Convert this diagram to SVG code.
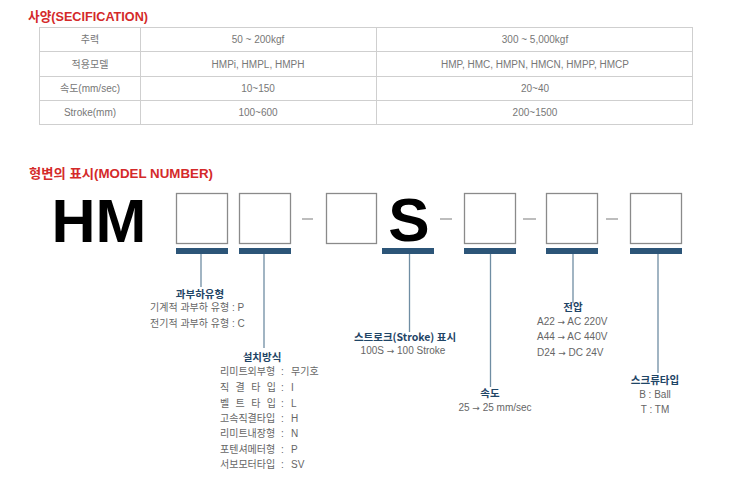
<svg xmlns="http://www.w3.org/2000/svg" width="743" height="498" viewBox="0 0 743 498">
<style>
.title{font-family:"Liberation Sans","Noto Sans CJK KR",sans-serif;font-size:13px;font-weight:bold;fill:#d42a2a}
.cell{font-family:"Liberation Sans","Noto Sans CJK KR",sans-serif;font-size:10px;fill:#777;text-anchor:middle}
.grid{stroke:#cfcfcf;stroke-width:1;fill:none}
.box{fill:#fff;stroke:#8a8a8a;stroke-width:1.3}
.bar{fill:#2c5578}
.dash{stroke:#999;stroke-width:1.3}
.lead{stroke:#6f8da3;stroke-width:1.3;fill:none}
.big{font-family:"Liberation Sans",Arial,sans-serif;font-weight:bold;fill:#000}
.head{font-family:"Noto Sans CJK KR","Liberation Sans",sans-serif;font-size:10.5px;font-weight:bold;fill:#1f4566;text-anchor:middle}
.txt{font-family:"Liberation Sans","Noto Sans CJK KR",sans-serif;font-size:10px;fill:#666}
.mid{text-anchor:middle}
.ar{font-family:"DejaVu Sans",sans-serif;font-size:9px}
</style>
<rect width="743" height="498" fill="#fff"/>
<g id="spec">
<text class="title" x="28" y="21" textLength="120" lengthAdjust="spacingAndGlyphs">사양(SECIFICATION)</text>
<rect class="grid" x="39.5" y="27.5" width="653" height="97"/>
<line class="grid" x1="39.5" y1="51.5" x2="692.5" y2="51.5"/>
<line class="grid" x1="39.5" y1="76.5" x2="692.5" y2="76.5"/>
<line class="grid" x1="39.5" y1="100.5" x2="692.5" y2="100.5"/>
<line class="grid" x1="140.5" y1="27.5" x2="140.5" y2="124.5"/>
<line class="grid" x1="376.5" y1="27.5" x2="376.5" y2="124.5"/>
<text class="cell" x="90" y="43">추력</text>
<text class="cell" x="258" y="43">50 ~ 200kgf</text>
<text class="cell" x="535" y="43">300 ~ 5,000kgf</text>
<text class="cell" x="90" y="68">적용모델</text>
<text class="cell" x="258" y="68">HMPi, HMPL, HMPH</text>
<text class="cell" x="535" y="68">HMP, HMC, HMPN, HMCN, HMPP, HMCP</text>
<text class="cell" x="90" y="92">속도(mm/sec)</text>
<text class="cell" x="258" y="92">10~150</text>
<text class="cell" x="535" y="92">20~40</text>
<text class="cell" x="90" y="116">Stroke(mm)</text>
<text class="cell" x="258" y="116">100~600</text>
<text class="cell" x="535" y="116">200~1500</text>
</g>
<g id="model-title">
<text class="title" x="29" y="178" textLength="184" lengthAdjust="spacingAndGlyphs">형변의 표시(MODEL NUMBER)</text>
</g>
<g id="prefix">
<text class="big" x="51.5" y="242" font-size="61">HM</text>
</g>
<g id="box1"><rect class="box" x="176.5" y="193.5" width="51" height="50"/><rect class="bar" x="176" y="248" width="52" height="6"/></g>
<g id="box2"><rect class="box" x="239.5" y="193.5" width="51" height="50"/><rect class="bar" x="239" y="248" width="52" height="6"/></g>
<g id="box3"><rect class="box" x="326.5" y="193.5" width="50" height="50"/></g>
<g id="letterS"><text class="big mid" x="409" y="241" font-size="62">S</text><rect class="bar" x="382" y="248" width="52" height="6"/></g>
<g id="box4"><rect class="box" x="464.5" y="193.5" width="51" height="50"/><rect class="bar" x="464" y="248" width="52" height="6"/></g>
<g id="box5"><rect class="box" x="546.5" y="193.5" width="51" height="50"/><rect class="bar" x="546" y="248" width="52" height="6"/></g>
<g id="box6"><rect class="box" x="630.5" y="193.5" width="51" height="50"/><rect class="bar" x="630" y="248" width="52" height="6"/></g>
<g id="dashes">
<line class="dash" x1="302" y1="219" x2="313" y2="219"/>
<line class="dash" x1="440" y1="219" x2="452" y2="219"/>
<line class="dash" x1="523" y1="219" x2="536" y2="219"/>
<line class="dash" x1="606" y1="219" x2="618" y2="219"/>
</g>
<g id="connectors">
<line class="lead" x1="201" y1="254" x2="201" y2="287"/>
<line class="lead" x1="264" y1="254" x2="264" y2="348"/>
<line class="lead" x1="409.5" y1="254" x2="409.5" y2="332"/>
<line class="lead" x1="490.5" y1="254" x2="490.5" y2="387"/>
<line class="lead" x1="573" y1="254" x2="573" y2="303"/>
<line class="lead" x1="658" y1="254" x2="658" y2="373"/>
</g>
<g id="overload">
<text class="head" x="200" y="298">과부하유형</text>
<text class="txt" x="150" y="311">기계적 과부하 유형 : P</text>
<text class="txt" x="150" y="327">전기적 과부하 유형 : C</text>
</g>
<g id="mounting">
<text class="head" x="262" y="361">설치방식</text>
<text class="txt" x="220" y="375">리미트외부형</text><text class="txt" x="281" y="375">:</text><text class="txt" x="291" y="375">무기호</text>
<text class="txt" x="220" y="391" textLength="56" lengthAdjust="spacing">직 결 타 입</text><text class="txt" x="281" y="391">:</text><text class="txt" x="291" y="391">I</text>
<text class="txt" x="220" y="407" textLength="56" lengthAdjust="spacing">벨 트 타 입</text><text class="txt" x="281" y="407">:</text><text class="txt" x="291" y="407">L</text>
<text class="txt" x="220" y="422">고속직결타입</text><text class="txt" x="281" y="422">:</text><text class="txt" x="291" y="422">H</text>
<text class="txt" x="220" y="437">리미트내장형</text><text class="txt" x="281" y="437">:</text><text class="txt" x="291" y="437">N</text>
<text class="txt" x="220" y="453">포텐셔메터형</text><text class="txt" x="281" y="453">:</text><text class="txt" x="291" y="453">P</text>
<text class="txt" x="220" y="468">서보모터타입</text><text class="txt" x="281" y="468">:</text><text class="txt" x="291" y="468">SV</text>
</g>
<g id="stroke">
<text class="head" x="405" y="341">스트로크(Stroke) 표시</text>
<text class="txt mid" x="403" y="354">100S <tspan class="ar">→</tspan> 100 Stroke</text>
</g>
<g id="speed">
<text class="head" x="490" y="397">속도</text>
<text class="txt mid" x="495" y="411">25 <tspan class="ar">→</tspan> 25 mm/sec</text>
</g>
<g id="voltage">
<text class="head" x="573" y="311">전압</text>
<text class="txt" x="537" y="325">A22 <tspan class="ar">→</tspan> AC 220V</text>
<text class="txt" x="537" y="340">A44 <tspan class="ar">→</tspan> AC 440V</text>
<text class="txt" x="537" y="356">D24 <tspan class="ar">→</tspan> DC 24V</text>
</g>
<g id="screw">
<text class="head" x="655" y="384">스크류타입</text>
<text class="txt mid" x="655" y="398">B : Ball</text>
<text class="txt mid" x="655" y="413">T : TM</text>
</g>
</svg>
